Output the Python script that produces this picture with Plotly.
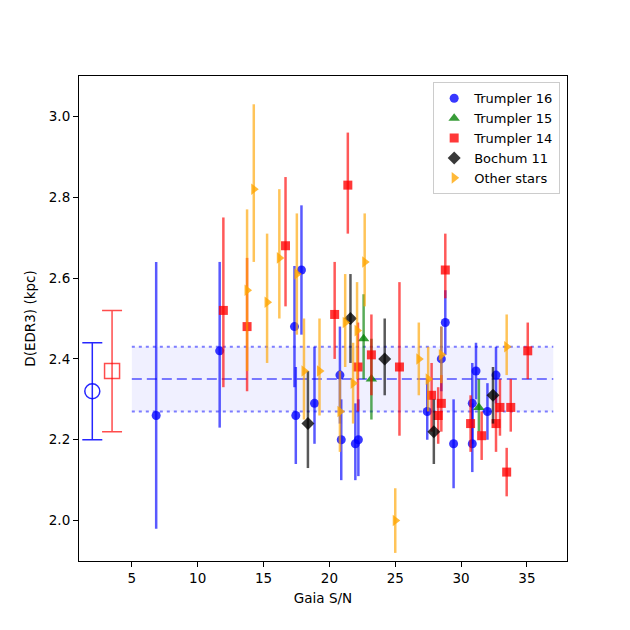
import plotly.graph_objects as go

# ---- data ----
t16_x = [6.85, 11.67, 17.35, 17.45, 17.88, 18.87, 20.8, 20.9, 21.97, 22.2, 27.43, 28.5, 28.8, 29.43, 30.85, 30.85, 31.13, 32.0, 32.65]
t16_y = [2.26, 2.42, 2.48, 2.26, 2.62, 2.29, 2.36, 2.20, 2.19, 2.20, 2.27, 2.40, 2.49, 2.19, 2.19, 2.29, 2.37, 2.27, 2.36]
t16_up = [0.38, 0.22, 0.15, 0.12, 0.16, 0.14, 0.12, 0.10, 0.10, 0.10, 0.08, 0.08, 0.08, 0.11, 0.10, 0.10, 0.07, 0.07, 0.07]
t16_dn = [0.28, 0.19, 0.15, 0.12, 0.16, 0.10, 0.12, 0.10, 0.09, 0.09, 0.07, 0.08, 0.08, 0.11, 0.07, 0.10, 0.07, 0.07, 0.07]

t15_x = [22.6, 23.19, 31.35]
t15_y = [2.45, 2.35, 2.28]
t15_up = [0.11, 0.10, 0.07]
t15_dn = [0.10, 0.10, 0.06]

t14_x = [11.95, 13.75, 16.67, 20.4, 21.4, 22.17, 23.19, 25.32, 27.76, 28.26, 28.5, 28.8, 30.72, 31.56, 32.65, 32.95, 33.77, 33.46, 35.06]
t14_y = [2.52, 2.48, 2.68, 2.51, 2.83, 2.38, 2.41, 2.38, 2.31, 2.26, 2.29, 2.62, 2.24, 2.21, 2.24, 2.28, 2.28, 2.12, 2.42]
t14_up = [0.23, 0.17, 0.17, 0.13, 0.13, 0.11, 0.10, 0.21, 0.08, 0.07, 0.07, 0.09, 0.07, 0.06, 0.07, 0.07, 0.07, 0.06, 0.07]
t14_dn = [0.19, 0.16, 0.15, 0.11, 0.12, 0.11, 0.10, 0.17, 0.09, 0.07, 0.07, 0.07, 0.07, 0.06, 0.07, 0.07, 0.06, 0.06, 0.07]

b11_x = [18.37, 21.6, 24.2, 27.93, 32.42]
b11_y = [2.24, 2.50, 2.40, 2.22, 2.31]
b11_up = [0.13, 0.11, 0.10, 0.08, 0.07]
b11_dn = [0.11, 0.11, 0.09, 0.08, 0.07]

oth_x = [14.26, 13.75, 15.27, 16.2, 17.53, 18.07, 19.25, 20.8, 21.2, 22.1, 22.68, 21.8, 26.79, 27.5, 28.5, 33.46, 25.0]
oth_y = [2.82, 2.57, 2.54, 2.65, 2.61, 2.37, 2.37, 2.27, 2.49, 2.47, 2.64, 2.34, 2.40, 2.35, 2.41, 2.43, 2.00]
oth_up = [0.21, 0.20, 0.17, 0.17, 0.15, 0.13, 0.13, 0.10, 0.12, 0.12, 0.12, 0.10, 0.09, 0.08, 0.07, 0.08, 0.08]
oth_dn = [0.18, 0.20, 0.15, 0.15, 0.15, 0.12, 0.11, 0.10, 0.11, 0.12, 0.11, 0.10, 0.09, 0.08, 0.07, 0.07, 0.08]

# summary markers on the left
sum_x = [2.0, 3.5]
sum_y = [2.32, 2.37]
sum_up = [0.12, 0.15]
sum_dn = [0.12, 0.15]

band_x = [5, 37]
band_mean = 2.35
band_lo = 2.27
band_hi = 2.43

series = [
    ("Trumpler 16", t16_x, t16_y, t16_up, t16_dn, "circle", (0, 0, 255), 9),
    ("Trumpler 15", t15_x, t15_y, t15_up, t15_dn, "triangle-up", (0, 128, 0), 10),
    ("Trumpler 14", t14_x, t14_y, t14_up, t14_dn, "square", (255, 0, 0), 9),
    ("Bochum 11", b11_x, b11_y, b11_up, b11_dn, "diamond", (0, 0, 0), 10),
    ("Other stars", oth_x, oth_y, oth_up, oth_dn, "triangle-right", (255, 165, 0), 10),
]

def rgba(c, a):
    return "rgba(%d,%d,%d,%.2f)" % (c[0], c[1], c[2], a)

fig = go.Figure()

# shaded band
fig.add_trace(go.Scatter(x=band_x, y=[band_hi, band_hi], mode="lines",
                         line=dict(color=rgba((0, 0, 255), 0.5), width=2, dash="3px,4px"),
                         showlegend=False, hoverinfo="skip"))
fig.add_trace(go.Scatter(x=band_x, y=[band_lo, band_lo], mode="lines",
                         line=dict(color=rgba((0, 0, 255), 0.5), width=2, dash="3px,4px"),
                         fill="tonexty", fillcolor=rgba((0, 0, 255), 0.06),
                         showlegend=False, hoverinfo="skip"))
fig.add_trace(go.Scatter(x=band_x, y=[band_mean, band_mean], mode="lines",
                         line=dict(color=rgba((0, 0, 255), 0.5), width=2, dash="10px,5px"),
                         showlegend=False, hoverinfo="skip"))

# summary points
fig.add_trace(go.Scatter(x=[sum_x[0]], y=[sum_y[0]], mode="markers",
                         marker=dict(symbol="circle-open", size=15, color="rgba(0,0,255,0.85)", line=dict(width=1.5)),
                         error_y=dict(type="data", symmetric=False, array=[sum_up[0]], arrayminus=[sum_dn[0]],
                                      color="rgba(0,0,255,0.85)", thickness=1.5, width=10),
                         showlegend=False))
fig.add_trace(go.Scatter(x=[sum_x[1]], y=[sum_y[1]], mode="markers",
                         marker=dict(symbol="square-open", size=15, color="rgba(255,0,0,0.7)", line=dict(width=1.5)),
                         error_y=dict(type="data", symmetric=False, array=[sum_up[1]], arrayminus=[sum_dn[1]],
                                      color="rgba(255,0,0,0.7)", thickness=1.5, width=10),
                         showlegend=False))

for name, xs, ys, up, dn, sym, col, sz in series:
    fig.add_trace(go.Scatter(
        x=xs, y=ys, mode="markers", name=name,
        marker=dict(symbol=sym, size=sz, color=rgba(col, 0.78), line=dict(width=0)),
        error_y=dict(type="data", symmetric=False, array=up, arrayminus=dn,
                     color=rgba(col, 0.65), thickness=2.5, width=0),
    ))

axis_common = dict(showline=True, linecolor="black", linewidth=1.1, mirror=True,
                   ticks="outside", ticklen=5, tickwidth=1.1, tickcolor="black",
                   showgrid=False, zeroline=False, automargin=False,
                   tickfont=dict(family="DejaVu Sans", size=13.5, color="black"))

fig.update_layout(
    width=630, height=630,
    margin=dict(l=71, r=71, t=68, b=77, autoexpand=False),
    paper_bgcolor="white", plot_bgcolor="white",
    font=dict(family="DejaVu Sans", size=13.5, color="black"),
    xaxis=dict(range=[0.99, 38.04], tickvals=[5, 10, 15, 20, 25, 30, 35],
               title=dict(text="Gaia S/N", font=dict(size=13.5), standoff=8), **axis_common),
    yaxis=dict(range=[1.9, 3.1], tickvals=[2.0, 2.2, 2.4, 2.6, 2.8, 3.0], tickformat=".1f",
               title=dict(text="D(EDR3) (kpc)", font=dict(size=13.5), standoff=10), **axis_common),
    legend=dict(x=0.986, y=0.987, xanchor="right", yanchor="top", traceorder="normal",
                bgcolor="rgba(255,255,255,0.8)", bordercolor="#cccccc", borderwidth=1,
                font=dict(size=13), tracegroupgap=0, itemwidth=30),
    showlegend=True,
)

fig.write_html("out.html")
